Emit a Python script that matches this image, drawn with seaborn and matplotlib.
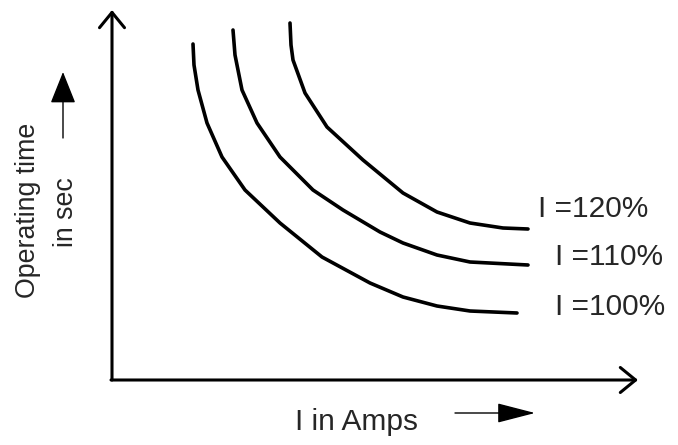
import pandas as pd
import matplotlib
matplotlib.use("Agg")
import matplotlib.pyplot as plt
import seaborn as sns

# Curve points (current vs operating time, arbitrary units)
current_100 = [81, 82, 86, 95, 110, 133, 168, 210, 258, 291, 325, 358, 405]
time_100 = [336, 315, 290, 257, 223, 190, 157, 123, 97, 83, 74, 69, 67]

current_110 = [121, 123, 130, 145, 168, 201, 231, 268, 291, 325, 358, 416]
time_110 = [350, 325, 290, 257, 223, 190, 170, 148, 137, 125, 118, 115]

current_120 = [178, 179, 181, 193, 215, 251, 291, 325, 358, 391, 416]
time_120 = [357, 335, 320, 287, 253, 220, 187, 168, 157, 152, 151]

curve_labels = ["I =100%", "I =110%", "I =120%"]

rows = []
for lab, xs, ys in zip(curve_labels,
                       [current_100, current_110, current_120],
                       [time_100, time_110, time_120]):
    for x, y in zip(xs, ys):
        rows.append({"curve": lab, "current": x, "time": y})
df = pd.DataFrame(rows)

sns.set_style("white")
plt.rcParams["font.family"] = ["Liberation Sans", "DejaVu Sans"]

fig = plt.figure(figsize=(6.78, 4.45), dpi=100)
ax = fig.add_axes([0, 0, 1, 1])

sns.lineplot(data=df, x="current", y="time", hue="curve", palette=["black"] * 3,
             sort=False, estimator=None, legend=False, linewidth=2.6,
             solid_capstyle="round", solid_joinstyle="round", ax=ax)

ax.set_xlim(-112, 566)
ax.set_ylim(-65, 380)
ax.axis("off")

# axes with open arrow heads
axis_style = "->,head_length=0.55,head_width=0.45"
ax.annotate("", xy=(0, 370), xytext=(0, 0),
            arrowprops=dict(arrowstyle=axis_style, lw=2.2, color="black",
                            shrinkA=0, shrinkB=0, mutation_scale=20))
ax.annotate("", xy=(526, 0), xytext=(-1, 0),
            arrowprops=dict(arrowstyle=axis_style, lw=2.2, color="black",
                            shrinkA=0, shrinkB=0, mutation_scale=20))

# curve labels
label_pos = {"I =120%": (426, 163), "I =110%": (443, 115), "I =100%": (443, 65)}
for lab in curve_labels:
    x, y = label_pos[lab]
    ax.text(x, y, lab, fontsize=21.5, ha="left", va="baseline")

# axis titles with filled arrows
ax.text(183, -50, "I in Amps", fontsize=21.5, ha="left", va="baseline")
ax.annotate("", xy=(423, -33), xytext=(343, -33),
            arrowprops=dict(arrowstyle="-|>,head_length=1.2,head_width=0.31",
                            lw=1, color="black", shrinkA=0, shrinkB=0,
                            mutation_scale=20))

ax.text(-84, 170, "Operating time", fontsize=19.3, rotation=90,
        ha="center", va="center")
ax.text(-46, 168, "in sec", fontsize=19.3, rotation=90,
        ha="center", va="center")
ax.annotate("", xy=(-49, 308), xytext=(-49, 242),
            arrowprops=dict(arrowstyle="-|>,head_length=1.0,head_width=0.4",
                            lw=1, color="black", shrinkA=0, shrinkB=0,
                            mutation_scale=20))

plt.savefig("out.png", dpi=100)
plt.close()
